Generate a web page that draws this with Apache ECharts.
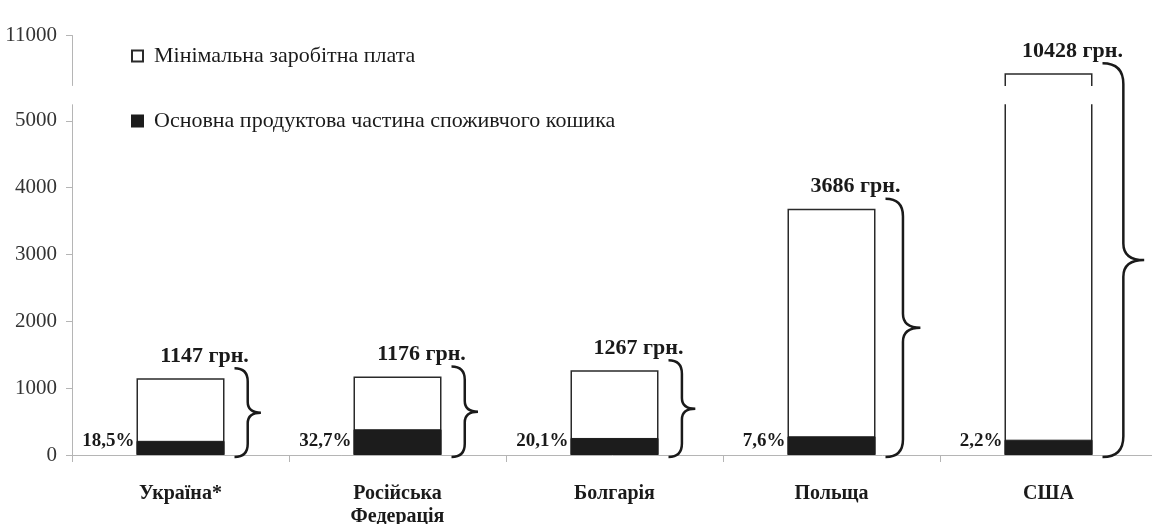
<!DOCTYPE html>
<html>
<head>
<meta charset="utf-8">
<script src="https://cdn.jsdelivr.net/npm/echarts@6/dist/echarts.min.js"></script>
<style>html,body{margin:0;padding:0;background:#fff}#c{width:1152px;height:524px}</style>
</head>
<body>
<div id="c"></div>
<script>
const categories = ['Україна*', 'Російська\nФедерація', 'Болгарія', 'Польща', 'США'];
const minWage = [1147, 1176, 1267, 3686, 10428];
const foodPart = [212, 385, 255, 280, 229];
const foodShareLabels = ['18,5%', '32,7%', '20,1%', '7,6%', '2,2%'];
const yTickValues = [0, 1000, 2000, 3000, 4000, 5000, 11000];
const axisBreak = {start: 5250, end: 10250};
const seriesNames = ['Мінімальна заробітна плата', 'Основна продуктова частина споживчого кошика'];

const SERIF = '"Liberation Serif", "DejaVu Serif", serif';
const BAR_W = 88;

const chart = echarts.init(document.getElementById('c'), null, {renderer: 'canvas'});

function braceItem(params, api) {
  const idx = api.value(0);
  const total = api.value(1);
  const pBase = api.coord([idx, 0]);
  const pTop = api.coord([idx, total]);
  const x0 = pBase[0] + BAR_W / 2 + 10;
  const y0 = pTop[1] - 10;
  const y1 = pBase[1] + 2;
  const w = 22 + (y1 - y0) * 0.05;
  const xv = x0 + w * 0.5;
  const xt = x0 + w;
  const ym = (y0 + y1) / 2;
  const r = w * 0.5;
  const d = ['M', x0, y0, 'Q', xv, y0, xv, y0 + r, 'L', xv, ym - r * 0.8,
    'Q', xv, ym, xt, ym, 'Q', xv, ym, xv, ym + r * 0.8,
    'L', xv, y1 - r, 'Q', xv, y1, x0, y1].join(' ');
  return {
    type: 'path',
    shape: {pathData: d},
    style: {fill: null, stroke: '#1a1a1a', lineWidth: 2.5}
  };
}

function breakCover(params, api) {
  const cs = params.coordSys;
  const pLow = api.coord([0, api.value(0)]);
  const pHigh = api.coord([0, api.value(1)]);
  return {
    type: 'rect',
    shape: {x: cs.x - 1, y: pHigh[1] + 1, width: cs.width + 2, height: pLow[1] - pHigh[1] - 1},
    style: {fill: '#fff'}
  };
}

const option = {
  animation: false,
  backgroundColor: '#fff',
  grid: {left: 72, right: -5, top: 35, bottom: 69, containLabel: false, outerBoundsMode: 'none'},
  legend: {
    data: seriesNames,
    orient: 'vertical',
    left: 126,
    top: 40,
    itemGap: 43,
    itemWidth: 11,
    itemHeight: 11,
    icon: 'rect',
    textStyle: {fontFamily: SERIF, fontSize: 22, color: '#1a1a1a', padding: [0, 0, 0, 6]}
  },
  xAxis: {
    type: 'category',
    data: categories,
    axisLine: {lineStyle: {color: '#b5b5b5', width: 1}},
    axisTick: {show: true, length: 7, lineStyle: {color: '#b5b5b5'}},
    axisLabel: {fontFamily: SERIF, fontSize: 20, fontWeight: 'bold', color: '#1a1a1a', margin: 27, lineHeight: 23, verticalAlign: 'top'},
    splitLine: {show: false}
  },
  yAxis: {
    type: 'value',
    min: 0,
    max: 11000,
    interval: 1000,
    breaks: [{start: axisBreak.start, end: axisBreak.end, gap: 285}],
    breakArea: {show: false},
    axisLine: {show: true, lineStyle: {color: '#b5b5b5', width: 1}},
    axisTick: {show: true, length: 6, customValues: yTickValues, lineStyle: {color: '#b5b5b5'}},
    axisLabel: {fontFamily: SERIF, fontSize: 21, color: '#333', margin: 15, customValues: yTickValues, formatter: v => String(v)},
    splitLine: {show: false}
  },
  series: [
    {
      name: seriesNames[0],
      type: 'bar',
      data: minWage,
      barWidth: BAR_W,
      barGap: '-100%',
      itemStyle: {color: '#fff', borderColor: '#2a2a2a', borderWidth: 1.5},
      label: {
        show: true, position: 'top', offset: [24, -6],
        formatter: '{c} грн.',
        fontFamily: SERIF, fontSize: 22, fontWeight: 'bold', color: '#1a1a1a'
      },
      z: 2
    },
    {
      name: seriesNames[1],
      type: 'bar',
      data: foodPart,
      barWidth: BAR_W,
      barGap: '-100%',
      itemStyle: {color: '#1c1c1c', borderColor: '#1c1c1c', borderWidth: 1},
      label: {
        show: true, position: [0, '100%'], align: 'right', verticalAlign: 'bottom', offset: [-2, -4],
        formatter: p => foodShareLabels[p.dataIndex],
        fontFamily: SERIF, fontSize: 19, fontWeight: 'bold', color: '#1a1a1a'
      },
      z: 3
    },
    {
      name: 'axis-break',
      type: 'custom',
      renderItem: breakCover,
      data: [[axisBreak.start, axisBreak.end]],
      encode: {y: [0, 1]},
      clip: false,
      silent: true,
      z: 5
    },
    {
      name: 'brace',
      type: 'custom',
      renderItem: braceItem,
      data: minWage.map((v, i) => [i, v]),
      encode: {x: 0, y: 1},
      silent: true,
      z: 6
    }
  ]
};
chart.setOption(option);
</script>
</body>
</html>
